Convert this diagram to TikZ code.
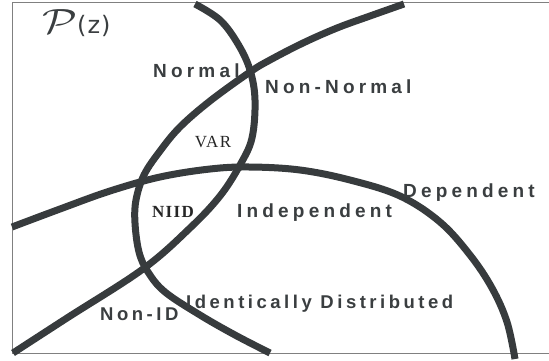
\documentclass[tikz,border=0pt]{standalone}
\usepackage{fontspec}
\setmainfont{Liberation Serif}
\newfontfamily\lab[LetterSpace=22]{Liberation Sans}
\newfontfamily\labb[LetterSpace=19]{Liberation Sans}
\newfontfamily\titlefont[LetterSpace=4]{DejaVu Sans}
\newfontfamily\serifspaced[LetterSpace=8]{Liberation Serif}
\definecolor{curve}{HTML}{373B3D}
\definecolor{txt}{HTML}{3A3E40}
\definecolor{frame}{HTML}{808080}
\tikzset{
  arc/.style={draw=curve, line width=7pt, line cap=butt},
  lbl/.style={inner sep=0pt, anchor=base west, text=txt, font=\lab\bfseries\fontsize{19}{19}\selectfont},
  lbls/.style={inner sep=0pt, anchor=base west, text=txt, font=\labb\bfseries\fontsize{18.5}{18.5}\selectfont},
  reg/.style={inner sep=0pt, anchor=base, text=black!85}
}
\begin{document}
\begin{tikzpicture}[x=1pt,y=-1pt]
\useasboundingbox (0,0) rectangle (549,360);
% frame
\draw[frame, line width=1pt] (560,2.5) -- (12.5,2.5) -- (12.5,353.5) -- (560,353.5);
% curves
\draw[arc] plot[smooth, tension=0.6] coordinates {(404,4) (370,16) (337,28) (303,43) (270,60) (250,72) (210,101) (180,127) (160,151) (144,175) (136,200) (135,223) (139,252) (148,272) (165,292) (200,315) (235,335) (270,353)};
\draw[arc] plot[smooth, tension=0.6] coordinates {(195,4) (220,20) (238,44) (250,70) (255,100) (252,138) (240,165) (220,196) (190,228) (143,269) (67,318) (13,353)};
\draw[arc] plot[smooth, tension=0.6] coordinates {(12,227) (60,209) (110,191) (160,177) (210,169) (250,167) (300,170) (350,180) (400,196) (440,222) (470,255) (492,288) (507,322) (515,359)};
% labels
\node[inner sep=0pt, anchor=base west, text=txt] (pz) at (42,33) {\scalebox{4.5}[3.5]{\fontsize{10}{10}\selectfont$\mathcal{P}$}\hspace{0pt}\titlefont\fontsize{24}{24}\selectfont(z)};
\node[lbl] (normal) at (153,77) {Normal};
\node[lbl] (nonnormal) at (265,93) {Non-Normal};
\node[reg] (var) at (213,147) {\serifspaced\fontsize{17}{17}\selectfont VAR};
\node[reg] (niid) at (173,217) {\serifspaced\bfseries\fontsize{17}{17}\selectfont NIID};
\node[lbl] (indep) at (237,217) {Independent};
\node[lbl] (dep) at (403,197) {Dependent};
\node[lbls] (ident) at (186,308) {Identically Distributed};
\node[lbls] (nonid) at (100,320) {Non-ID};
\end{tikzpicture}
\end{document}
